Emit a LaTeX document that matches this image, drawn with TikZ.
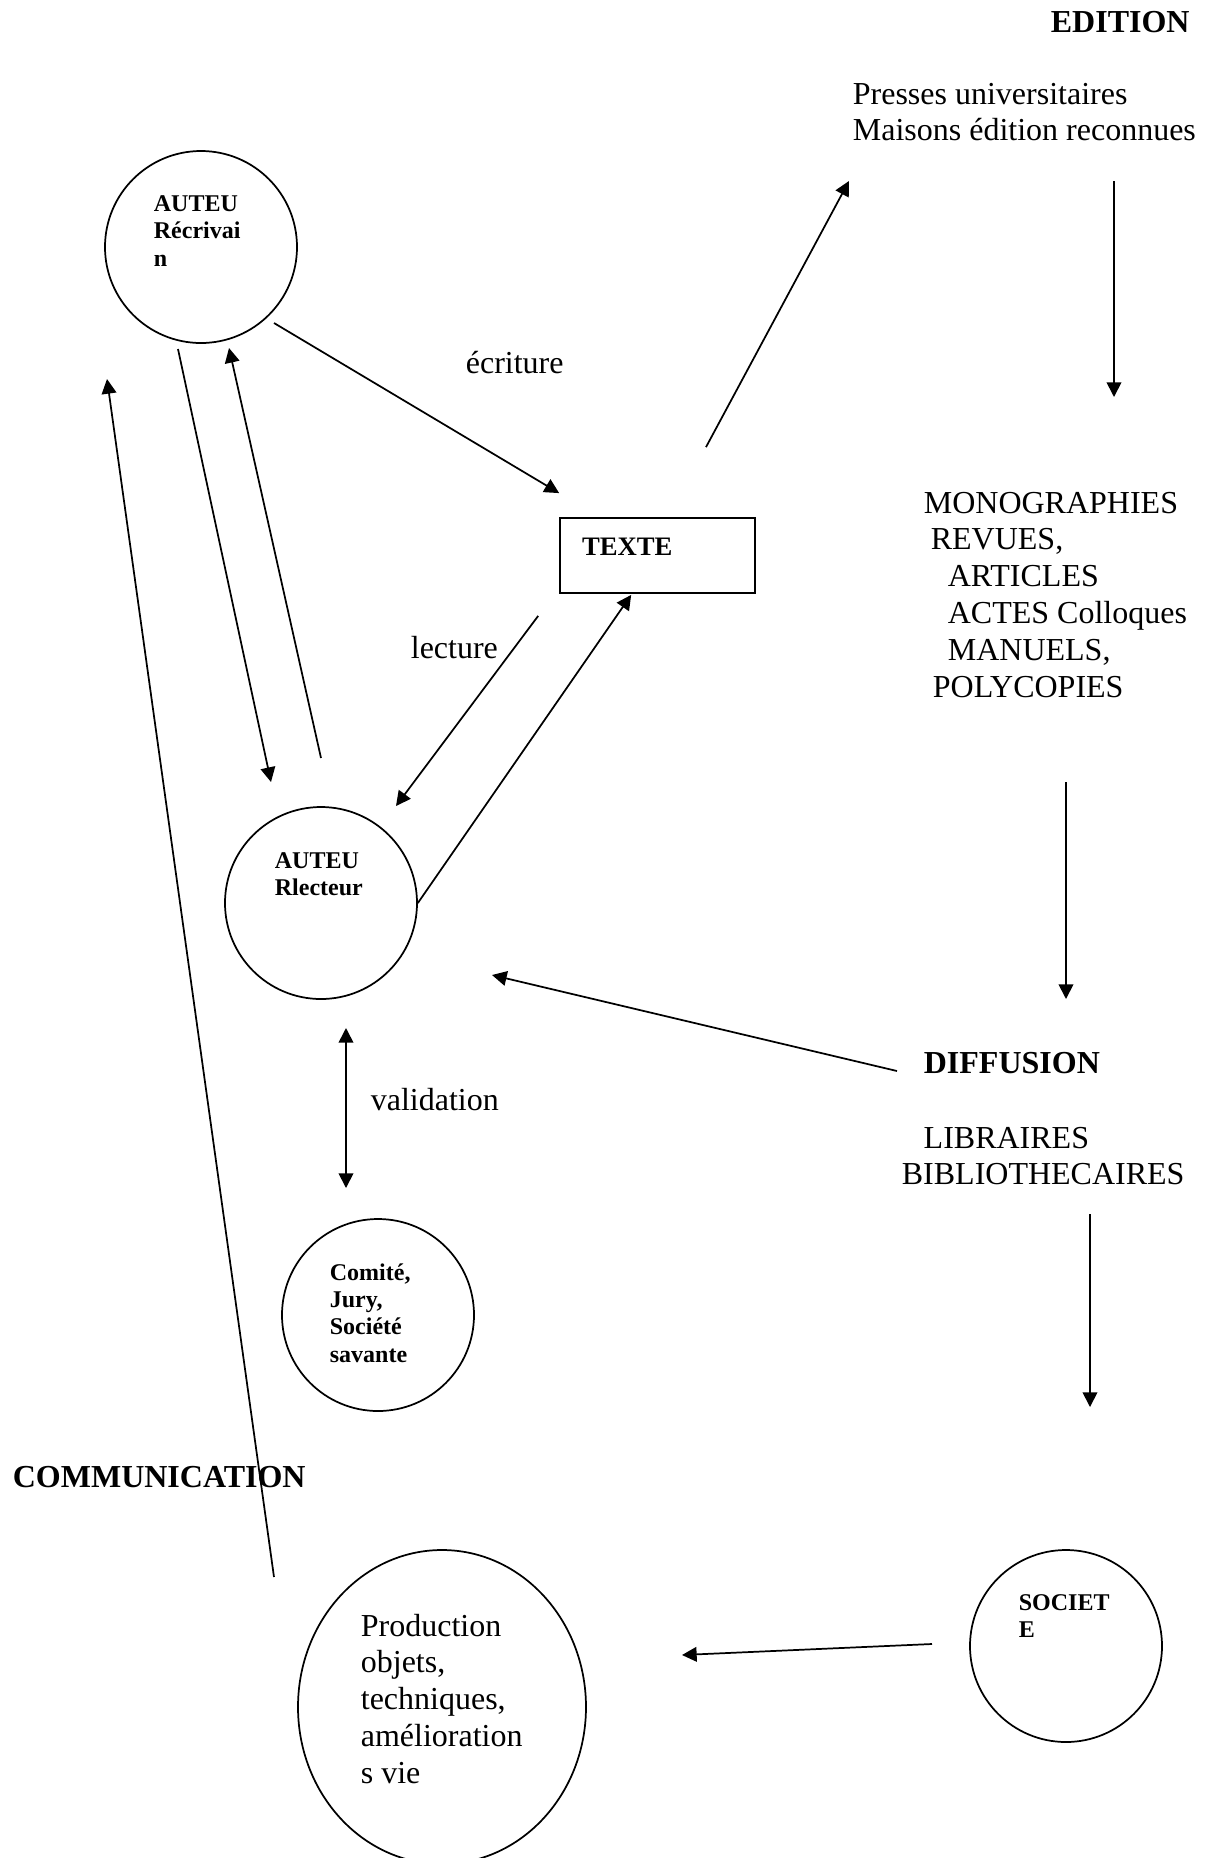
\documentclass[tikz,border=0pt]{standalone}
\usepackage{fontspec}
\setmainfont{Liberation Serif}
\usepackage{tikz}
\usetikzlibrary{positioning}
\usetikzlibrary{arrows.meta}
\usetikzlibrary{shapes.geometric}
\usetikzlibrary{calc}

\begin{document}
\begin{tikzpicture}[x=0.375pt, y=-0.375pt, line width=0.65pt,
  >={Triangle[length=5.5pt,width=5.5pt]},
  bubble/.style={draw, circle, minimum size=72pt, inner sep=0pt},
  plain/.style={inner sep=0pt, align=left, font=\fontsize{12}{13.8}\selectfont},
  heading/.style={inner sep=0pt, font=\bfseries\fontsize{12}{13.8}\selectfont},
  tag/.style={inner sep=0pt, align=left, font=\bfseries\fontsize{9}{10.2}\selectfont}]
\useasboundingbox (0,0) rectangle (1206,1858);
\node (edition) [heading, anchor=base west] at (1050,32) {EDITION};
\node (presses) [plain, anchor=north west] at (852,82) {Presses universitaires\\Maisons édition reconnues};
\node (ecrivain) [bubble] at (201,247) {};
\node (ecrivaintxt) [tag, anchor=north west] at (153,195) {AUTEU\\Récrivai\\n};
\node (ecriture) [plain, anchor=base west] at (465,373) {écriture};
\node (texte) [draw, inner xsep=8.25pt, inner ysep=7.5pt, text width=56.6pt, text height=6.75pt, text depth=6.4pt, align=left, font=\bfseries\fontsize{10}{12}\selectfont] at (657.5,555.5) {TEXTE};
\node (monographies) [plain, anchor=north west] at (923,491) {MONOGRAPHIES\\\hspace*{2.6pt}REVUES,\\\hspace*{9pt}ARTICLES\\\hspace*{9pt}ACTES Colloques\\\hspace*{9pt}MANUELS,\\\hspace*{3.4pt}POLYCOPIES};
\node (lecture) [plain, anchor=base west] at (410,658) {lecture};
\node (lecteur) [bubble] at (321,903) {};
\node (lecteurtxt) [tag, anchor=north west] at (274,852) {AUTEU\\Rlecteur};
\node (diffusion) [heading, anchor=base west] at (923,1073) {DIFFUSION};
\node (validation) [plain, anchor=base west] at (370,1110) {validation};
\node (libraires) [plain, anchor=north west] at (901,1126) {\hspace*{8.2pt}LIBRAIRES\\BIBLIOTHECAIRES};
\node (comite) [bubble] at (378,1315) {};
\node (comitetxt) [tag, anchor=north west] at (329,1263) {Comité,\\Jury,\\Société\\savante};
\node (communication) [heading, anchor=base west] at (12,1487) {COMMUNICATION};
\node (societe) [bubble] at (1066,1646) {};
\node (societetxt) [tag, anchor=north west] at (1018,1594) {SOCIET\\E};
\node (production) [draw, ellipse, minimum width=108pt, minimum height=117.75pt, inner sep=0pt] at (442,1707) {};
\node (productiontxt) [plain, anchor=north west] at (360,1613) {Production\\objets,\\techniques,\\amélioration\\s vie};
\draw[->] ($(ecrivain)+(73,76)$) -- ($(texte.north west)+(0,-24)$);
\draw[->] ($(texte.north)+(48.5,-70)$) -- ($(presses.north west)+(-3,99)$);
\draw[->] ($(presses.north west)+(262,99)$) -- ($(monographies.north west)+(191,-94)$);
\draw[->] ($(monographies.north west)+(143,291)$) -- ($(diffusion.base west)+(143,-74)$);
\draw[->] ($(diffusion.base west)+(-26,-2)$) -- ($(lecteur)+(171,72)$);
\draw[->] ($(libraires.north west)+(189,88)$) -- ($(societe)+(24,-239)$);
\draw[->] ($(societe)+(-134,-2)$) -- ($(production)+(240,-52)$);
\draw[->] ($(production)+(-168,-130)$) -- ($(ecrivain)+(-94,132)$);
\draw[->] ($(ecrivain)+(-23,102)$) -- ($(lecteur)+(-50,-121)$);
\draw[->] ($(lecteur)+(0,-145)$) -- ($(ecrivain)+(28,101)$);
\draw[->] ($(texte.south west)+(-21,22)$) -- ($(lecteur)+(75,-97)$);
\draw[->] (lecteur.east) -- ($(texte.south west)+(72,1)$);
\draw[<->] ($(lecteur)+(25,125)$) -- ($(comite)+(-32,-127)$);
\end{tikzpicture}
\end{document}
